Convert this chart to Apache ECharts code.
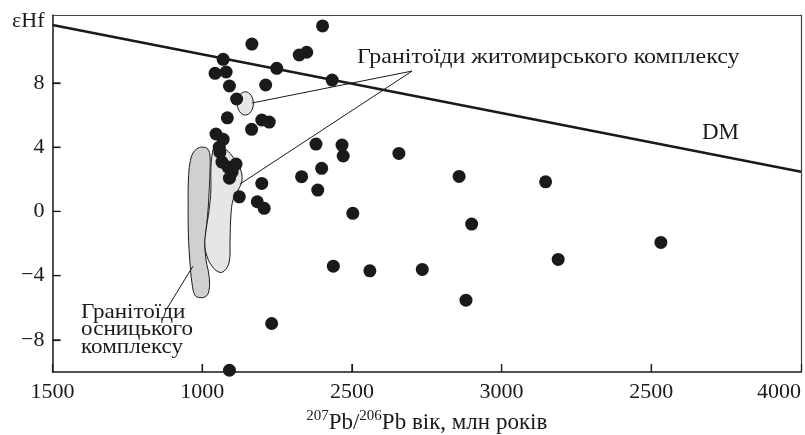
<!DOCTYPE html>
<html>
<head>
<meta charset="utf-8">
<script src="https://cdn.jsdelivr.net/npm/echarts@6/dist/echarts.min.js"></script>
<style>
  html, body { margin: 0; padding: 0; background: #fff; }
  #chart { width: 805px; height: 435px; }
</style>
</head>
<body>
<div id="chart"></div>
<script>
// axis ticks (labels as printed on the original figure)
var xTickValues = [500, 1000, 1500, 2000, 2500, 3000];
var xTickLabels = ["1500", "1000", "2500", "3000", "2500", "4000"];
var yTickValues = [-8, -4, 0, 4, 8];

// zircon analyses: [age, eHf]
var hfPoints = [
  [1402, 11.55], [1166, 10.42], [1324, 9.74], [1349, 9.91], [1070, 9.47],
  [1043, 8.6], [1080, 8.68], [1249, 8.91], [1434, 8.18], [1091, 7.81],
  [1212, 7.87], [1115, 7.0], [1084, 5.83], [1199, 5.69], [1224, 5.56],
  [1165, 5.11], [1046, 4.82], [1070, 4.49], [1380, 4.19], [1467, 4.13],
  [1471, 3.45], [1657, 3.61], [1057, 4.0], [1059, 3.69], [1066, 3.07],
  [1086, 2.76], [1113, 2.95], [1100, 2.45], [1091, 2.07], [1399, 2.68],
  [1332, 2.16], [1858, 2.18], [2147, 1.84], [1199, 1.74], [1386, 1.33],
  [1124, 0.91], [1184, 0.6], [1207, 0.19], [1503, -0.12], [1900, -0.79],
  [2532, -1.93], [2189, -2.99], [1438, -3.41], [1560, -3.7], [1735, -3.61],
  [1881, -5.53], [1232, -6.98], [1091, -9.89]
];

// depleted mantle evolution line
var dmLine = [[500, 11.61], [3000, 2.47]];

// field of Osnytsky complex granitoids
var osnytskyField = [
  [1003, 4.0], [1019, 3.88], [1026, 3.45], [1026, 2.45], [1023, 1.2],
  [1019, -0.04], [1013, -1.16], [1009, -2.09], [1013, -3.03], [1023, -4.03],
  [1023, -4.9], [1013, -5.28], [993, -5.37], [976, -5.22], [966, -4.47],
  [959, -3.16], [954, -1.48], [953, 0.39], [954, 1.95], [959, 3.0],
  [969, 3.63], [986, 3.94]
];

// field of Zhytomyr complex granitoids
var zhytomyrField = [
  [1043, 4.07], [1073, 3.94], [1100, 3.45], [1126, 2.7], [1133, 1.95],
  [1120, 1.33], [1103, 0.71], [1096, -0.23], [1093, -1.79], [1090, -3.16],
  [1073, -3.72], [1056, -3.78], [1033, -3.41], [1016, -2.79], [1009, -2.04],
  [1013, -1.16], [1023, 0.08], [1029, 1.33], [1029, 2.57], [1033, 3.51]
];

// small Zhytomyr field (ellipse), extent [[xmin, ymin], [xmax, ymax]]
var zhytomyrSmall = [[1117, 6.0], [1171, 7.45]];

// leader lines from labels to fields
var leaders = [
  [[1166, 6.75], [1701, 8.74]],
  [[1126, 1.70], [1701, 8.74]],
  [[879, -6.15], [969, -3.41]]
];

var X_MIN = 500, X_MAX = 3000, Y_MIN = -10, Y_MAX = 12.23;
var FONT = '"Liberation Serif", "DejaVu Serif", serif';
var INK = '#1a1a1a';

var chart = echarts.init(document.getElementById('chart'), null, { renderer: 'canvas' });

var fields = [
  { pts: osnytskyField, fill: '#cfd0d2' },
  { pts: zhytomyrField, fill: '#e5e6e8' }
];

var series = [];

series.push({
  type: 'custom',
  coordinateSystem: 'cartesian2d',
  z: 1,
  silent: true,
  data: fields.map(function (f, i) { return [f.pts[0][0], f.pts[0][1], i]; }),
  renderItem: function (params, api) {
    var f = fields[params.dataIndex];
    return {
      type: 'polygon',
      shape: { points: f.pts.map(function (p) { return api.coord(p); }), smooth: 0.4 },
      style: { fill: f.fill, stroke: INK, lineWidth: 1 }
    };
  }
});

series.push({
  type: 'custom',
  coordinateSystem: 'cartesian2d',
  z: 1,
  silent: true,
  data: [zhytomyrSmall[0]],
  renderItem: function (params, api) {
    var a = api.coord(zhytomyrSmall[0]);
    var b = api.coord(zhytomyrSmall[1]);
    return {
      type: 'ellipse',
      shape: { cx: (a[0] + b[0]) / 2, cy: (a[1] + b[1]) / 2, rx: Math.abs(b[0] - a[0]) / 2, ry: Math.abs(b[1] - a[1]) / 2 },
      style: { fill: '#e5e6e8', stroke: INK, lineWidth: 1 }
    };
  }
});

leaders.forEach(function (seg) {
  series.push({
    type: 'line',
    data: seg,
    z: 2,
    silent: true,
    symbol: 'none',
    lineStyle: { color: INK, width: 1 }
  });
});

series.push({
  type: 'scatter',
  data: hfPoints,
  z: 3,
  symbol: 'circle',
  symbolSize: 13,
  itemStyle: { color: INK, opacity: 1 }
});

series.push({
  type: 'line',
  data: dmLine,
  z: 4,
  silent: true,
  symbol: 'none',
  lineStyle: { color: INK, width: 2.6 }
});

// inward tick marks on the bottom and left axes
var tickMarks = xTickValues.slice(1, -1).map(function (v) { return [v, Y_MIN, 0]; })
  .concat(yTickValues.map(function (v) { return [X_MIN, v, 1]; }));
series.push({
  type: 'custom',
  coordinateSystem: 'cartesian2d',
  z: 5,
  silent: true,
  data: tickMarks,
  renderItem: function (params, api) {
    var p = api.coord([api.value(0), api.value(1)]);
    var vertical = api.value(2) === 0;
    return {
      type: 'line',
      shape: vertical
        ? { x1: p[0], y1: p[1], x2: p[0], y2: p[1] - 8 }
        : { x1: p[0], y1: p[1], x2: p[0] + 8, y2: p[1] },
      style: { stroke: INK, lineWidth: 1.2 }
    };
  }
});

// plain frame axes for the top and right edges
var frameAxis = {
  type: 'value',
  splitLine: { show: false },
  axisTick: { show: false },
  axisLabel: { show: false },
  axisLine: { show: true, onZero: false, lineStyle: { color: '#444', width: 1.2 } }
};

var option = {
  backgroundColor: '#fff',
  animation: false,
  textStyle: { fontFamily: FONT },
  grid: {
    left: 52.5, right: 4, top: 15, bottom: 63,
    show: false, containLabel: false, outerBoundsMode: 'none'
  },
  xAxis: [{
    type: 'value',
    min: X_MIN, max: X_MAX, interval: 500,
    splitLine: { show: false },
    axisLine: { show: true, onZero: false, lineStyle: { color: INK, width: 1.5 } },
    axisTick: { show: true, inside: true, length: 8, lineStyle: { color: INK, width: 1.2 } },
    axisLabel: {
      margin: 9,
      color: INK, fontFamily: FONT, fontSize: 22,
      alignMaxLabel: 'right',
      formatter: function (v) {
        var i = xTickValues.indexOf(v);
        return i >= 0 ? xTickLabels[i] : '';
      }
    },
    name: '{sup|207}{b|Pb/}{sup|206}{b|Pb вік, млн років}',
    nameLocation: 'middle',
    nameGap: 37,
    nameTextStyle: {
      rich: {
        b: { fontFamily: FONT, fontSize: 23, color: INK, lineHeight: 25, verticalAlign: 'bottom' },
        sup: { fontFamily: FONT, fontSize: 15, color: INK, lineHeight: 25, verticalAlign: 'top', padding: [0, 0, 8, 0] }
      }
    }
  }, Object.assign({ position: 'top', min: X_MIN, max: X_MAX }, frameAxis)],
  yAxis: [{
    type: 'value',
    min: Y_MIN, max: Y_MAX,
    splitLine: { show: false },
    axisLine: { show: true, onZero: false, lineStyle: { color: INK, width: 1.5 } },
    axisTick: { show: true, inside: true, length: 8, customValues: yTickValues, lineStyle: { color: INK, width: 1.2 } },
    axisLabel: {
      customValues: yTickValues,
      margin: 8,
      color: INK, fontFamily: FONT, fontSize: 22,
      formatter: function (v) { return v < 0 ? '\u2212' + Math.abs(v) : String(v); }
    },
    name: 'εHf',
    nameLocation: 'end',
    nameGap: -6,
    nameTextStyle: { color: INK, fontFamily: FONT, fontSize: 22, align: 'right', verticalAlign: 'middle', padding: [0, 8, 0, 0] }
  }, Object.assign({ position: 'right', min: Y_MIN, max: Y_MAX }, frameAxis)],
  graphic: [
    { type: 'text', x: 357, y: 57, scaleX: 1.09, silent: true,
      style: { text: 'Гранітоїди житомирського комплексу', font: '22px ' + FONT, fill: INK, verticalAlign: 'middle' } },
    { type: 'text', x: 702, y: 133, silent: true,
      style: { text: 'DM', font: '23px ' + FONT, fill: INK, verticalAlign: 'middle' } },
    { type: 'text', x: 81, y: 303, scaleX: 1.05, silent: true,
      style: { text: 'Гранітоїди\nосницького\nкомплексу', font: '22px ' + FONT, fill: INK, lineHeight: 17.5, verticalAlign: 'top' } }
  ],
  series: series
};

chart.setOption(option);
</script>
</body>
</html>
